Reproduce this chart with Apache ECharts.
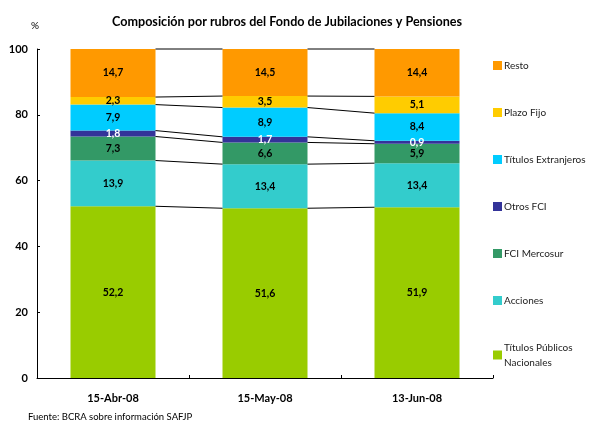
<!DOCTYPE html>
<html>
<head>
<meta charset="utf-8">
<script src="https://cdn.jsdelivr.net/npm/echarts@6/dist/echarts.min.js"></script>
<style>
  html, body { margin: 0; padding: 0; background: #fff; }
  #container { width: 590px; height: 423px; }
</style>
</head>
<body>
<div id="container"></div>
<script>
var fechas = ['15-Abr-08', '15-May-08', '13-Jun-08'];
var yTicks = [0, 20, 40, 60, 80, 100];

// de abajo hacia arriba
var titulosPublicos = [52.2, 51.6, 51.9];
var acciones = [13.9, 13.4, 13.4];
var fciMercosur = [7.3, 6.6, 5.9];
var otrosFci = [1.8, 1.7, 0.9];
var titulosExtranjeros = [7.9, 8.9, 8.4];
var plazoFijo = [2.3, 3.5, 5.1];
var resto = [14.7, 14.5, 14.4];

var rubros = [
  { name: 'Títulos Públicos\nNacionales', data: titulosPublicos, color: '#99cc00', label: '#000' },
  { name: 'Acciones', data: acciones, color: '#33cccc', label: '#000' },
  { name: 'FCI Mercosur', data: fciMercosur, color: '#339966', label: '#000' },
  { name: 'Otros FCI', data: otrosFci, color: '#333399', label: '#fff' },
  { name: 'Títulos Extranjeros', data: titulosExtranjeros, color: '#00ccff', label: '#000' },
  { name: 'Plazo Fijo', data: plazoFijo, color: '#ffcc00', label: '#000' },
  { name: 'Resto', data: resto, color: '#ff9900', label: '#000' }
];

var BAR_W = 85;
var FONT = 'Lato';

// acumulados para las líneas que unen las columnas
var cum = [0, 0, 0];
var conectores = [];
rubros.forEach(function (r) {
  cum = cum.map(function (c, i) { return c + r.data[i]; });
  for (var i = 0; i < fechas.length - 1; i++) {
    conectores.push([i, Math.min(cum[i], 100), Math.min(cum[i + 1], 100)]);
  }
});

var series = rubros.map(function (r) {
  return {
    name: r.name,
    type: 'bar',
    stack: 'total',
    barWidth: BAR_W,
    data: r.data,
    itemStyle: { color: r.color },
    label: {
      show: true,
      position: 'inside',
      color: r.label,
      fontFamily: FONT,
      fontWeight: 'bold',
      fontSize: 10.5,
      formatter: function (p) { return String(p.value).replace('.', ','); }
    }
  };
});

series.push({
  type: 'custom',
  silent: true,
  data: conectores,
  renderItem: function (params, api) {
    var i = api.value(0);
    var p1 = api.coord([i, api.value(1)]);
    var p2 = api.coord([i + 1, api.value(2)]);
    return {
      type: 'line',
      shape: { x1: p1[0] + BAR_W / 2, y1: p1[1], x2: p2[0] - BAR_W / 2, y2: p2[1] },
      style: { stroke: '#000', lineWidth: 1 }
    };
  },
  z: 3
});

var chart = echarts.init(document.getElementById('container'), null, { renderer: 'canvas' });

chart.setOption({
  animation: false,
  title: {
    text: 'Composición por rubros del Fondo de Jubilaciones y Pensiones',
    left: 107,
    top: 10,
    textStyle: { fontFamily: FONT, fontWeight: 'bold', fontSize: 12.6, color: '#000' }
  },
  graphic: [
    { type: 'text', left: 31, top: 21, style: { text: '%', fontFamily: FONT, fontSize: 10, fill: '#000' } },
    { type: 'text', left: 28, top: 412, style: { text: 'Fuente: BCRA sobre información SAFJP', fontFamily: FONT, fontSize: 9.5, fill: '#000' } }
  ],
  legend: {
    orient: 'vertical',
    left: 488,
    top: 53,
    itemWidth: 9,
    itemHeight: 9,
    itemGap: 32,
    icon: 'rect',
    data: rubros.slice().reverse().map(function (r) { return r.name; }),
    textStyle: { fontFamily: FONT, fontSize: 10, color: '#222', lineHeight: 15, padding: [0, 0, 0, -3] }
  },
  grid: { left: 37, right: 97, top: 49, bottom: 45 },
  xAxis: {
    type: 'category',
    data: fechas,
    axisLine: { lineStyle: { color: '#000', width: 1 } },
    axisTick: { show: true, inside: true, length: 3, lineStyle: { color: '#000' } },
    axisLabel: { margin: 15, fontFamily: FONT, fontWeight: 'bold', fontSize: 11, color: '#000' }
  },
  yAxis: {
    type: 'value',
    min: yTicks[0],
    max: yTicks[yTicks.length - 1],
    interval: 20,
    splitLine: { show: false },
    axisLine: { show: true, lineStyle: { color: '#000', width: 1 } },
    axisTick: { show: true, inside: true, length: 3, lineStyle: { color: '#000' } },
    axisLabel: { margin: 9, fontFamily: FONT, fontWeight: 'bold', fontSize: 11, color: '#000' }
  },
  series: series
});
</script>
</body>
</html>
